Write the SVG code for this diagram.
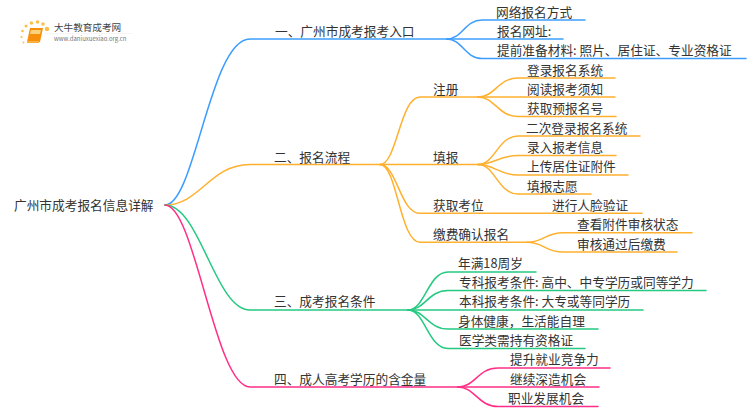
<svg xmlns="http://www.w3.org/2000/svg" width="750" height="410" viewBox="0 0 750 410">
<style>
text{font-family:"Noto Sans CJK SC","Noto Sans",sans-serif;font-size:12.7px;fill:#333}
path{fill:none;stroke-width:1.5;stroke-linecap:round}
.b path{stroke:#3d9dff}.o path{stroke:#ffb02e}.g path{stroke:#25c981}.p path{stroke:#ff2f87}
</style>
<rect width="750" height="410" fill="#fff"/>
<g id="connectors">
<g class="b">
<path d="M165 205C195 205 210 39 250 39H447"/>
<path d="M447 39C462 39 465 20 482 20H585"/>
<path d="M447 39H563"/>
<path d="M447 39C462 39 465 58.500 482 58.500H746"/>
</g>
<g class="o">
<path d="M165 205C200 205 210 164.500 250 164.500H380"/>
<path d="M380 164.500C397 164.500 400 97 420 97H478"/>
<path d="M380 164.500H478"/>
<path d="M380 164.500C397 164.500 400 213.300 420 213.300H642"/>
<path d="M380 164.500C397 164.500 400 242.300 420 242.300H527"/>
<path d="M478 97C495 97 498 78 518 78H615"/>
<path d="M478 97H615"/>
<path d="M478 97C495 97 498 116.500 518 116.500H616"/>
<path d="M478 164.500C495 164.500 498 136 518 136H640"/>
<path d="M478 164.500C495 164.500 498 155.500 518 155.500H616"/>
<path d="M478 164.500C495 164.500 498 175 518 175H628"/>
<path d="M478 164.500C495 164.500 498 194 518 194H591"/>
<path d="M527 242.300C544 242.300 545 232.700 563 232.700H692"/>
<path d="M527 242.300C544 242.300 545 252 563 252H677"/>
</g>
<g class="g">
<path d="M165 205C200 205 215 310 250 310H408"/>
<path d="M408 310C425 310 428 272 448 272H536"/>
<path d="M408 310C425 310 428 290.500 448 290.500H706"/>
<path d="M408 310H643"/>
<path d="M408 310C425 310 428 329 448 329H598"/>
<path d="M408 310C425 310 428 348.500 448 348.500H585"/>
</g>
<g class="p">
<path d="M165 205C195 205 215 387 250 387H458"/>
<path d="M458 387C475 387 478 368 498 368H610"/>
<path d="M458 387H599"/>
<path d="M458 387C475 387 478 406.500 498 406.500H598"/>
</g>
</g>
<g id="logo">
<g fill="#fbc04a">
<circle cx="47" cy="29" r="2.200"/><circle cx="43" cy="24" r="1.800"/><circle cx="37.500" cy="22" r="1.800"/><circle cx="31.500" cy="23" r="1.700"/><circle cx="26" cy="26" r="1.500"/><circle cx="22.500" cy="31" r="1.300"/><circle cx="21.500" cy="37" r="1.100"/><circle cx="23.500" cy="42.500" r="1"/>
</g>
<polygon points="30,28 43,28 40,42 27,42" fill="#f58f0c"/>
<polygon points="31,30 41,30 40,34 30,34" fill="#fcd27a"/>
<polygon points="27,41 39,41 39,43 27,43" fill="#fbb040"/>
<path d="M45 33.500H132" style="stroke:#eee;stroke-width:.6"/>
<text x="54" y="30.500" style="font-size:9.600px;fill:#444">大牛教育成考网</text>
<text x="54" y="41" style="font-size:6px;fill:#777">www.daniuxuexiao.org.cn</text>
</g>
<g id="root"><text x="14" y="210">广州市成考报名信息详解</text></g>
<g id="n1"><text x="275" y="36">一、广州市成考报考入口</text></g>
<g id="n1-1"><text x="496" y="17">网络报名方式</text></g>
<g id="n1-2"><text x="497" y="36">报名网址:</text></g>
<g id="n1-3"><text x="497" y="55">提前准备材料: 照片、居住证、专业资格证</text></g>
<g id="n2"><text x="274" y="162">二、报名流程</text></g>
<g id="n2-1"><text x="433" y="94">注册</text></g>
<g id="n2-1-1"><text x="527" y="75">登录报名系统</text></g>
<g id="n2-1-2"><text x="527" y="94">阅读报考须知</text></g>
<g id="n2-1-3"><text x="527" y="113">获取预报名号</text></g>
<g id="n2-2"><text x="433" y="162">填报</text></g>
<g id="n2-2-1"><text x="526" y="133">二次登录报名系统</text></g>
<g id="n2-2-2"><text x="527" y="152">录入报考信息</text></g>
<g id="n2-2-3"><text x="527" y="171">上传居住证附件</text></g>
<g id="n2-2-4"><text x="527" y="191">填报志愿</text></g>
<g id="n2-3"><text x="433" y="210">获取考位</text></g>
<g id="n2-3-1"><text x="552" y="210">进行人脸验证</text></g>
<g id="n2-4"><text x="433" y="239">缴费确认报名</text></g>
<g id="n2-4-1"><text x="577" y="229">查看附件审核状态</text></g>
<g id="n2-4-2"><text x="577" y="249">审核通过后缴费</text></g>
<g id="n3"><text x="274" y="306">三、成考报名条件</text></g>
<g id="n3-1"><text x="458" y="268">年满18周岁</text></g>
<g id="n3-2"><text x="459" y="287">专科报考条件: 高中、中专学历或同等学力</text></g>
<g id="n3-3"><text x="459" y="306">本科报考条件: 大专或等同学历</text></g>
<g id="n3-4"><text x="458" y="326">身体健康，生活能自理</text></g>
<g id="n3-5"><text x="459" y="345">医学类需持有资格证</text></g>
<g id="n4"><text x="274" y="384">四、成人高考学历的含金量</text></g>
<g id="n4-1"><text x="510" y="364">提升就业竞争力</text></g>
<g id="n4-2"><text x="510" y="384">继续深造机会</text></g>
<g id="n4-3"><text x="508" y="403">职业发展机会</text></g>
</svg>
